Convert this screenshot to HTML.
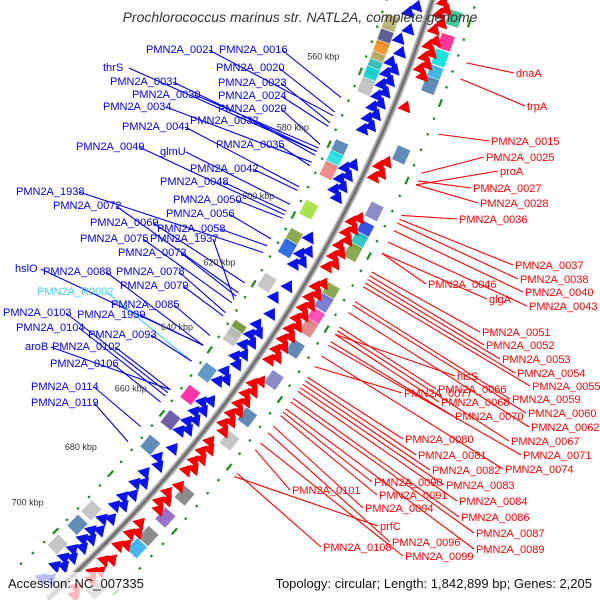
<!DOCTYPE html>
<html><head><meta charset="utf-8"><style>
html,body{margin:0;padding:0;background:#fff;width:600px;height:600px;overflow:hidden}
svg{display:block;font-family:"Liberation Sans",sans-serif}
</style></head><body>
<svg id="map" width="600" height="600" viewBox="0 0 600 600" xmlns="http://www.w3.org/2000/svg">
<defs><clipPath id="clip"><rect x="0" y="0" width="600" height="600"/></clipPath></defs>
<g clip-path="url(#clip)">
<g id="lines"></g>
<g id="ticks"></g>
<g id="boxes"></g>
<g id="genes"></g>
<g id="backbone"></g>
<g id="labels"></g>
</g>
<text x="300" y="22" text-anchor="middle" font-size="14" font-style="italic" fill="#333">Prochlorococcus marinus str. NATL2A, complete genome</text>
<rect x="0" y="572" width="600" height="28" fill="#fff" opacity="0.72"/>
<text x="8" y="588" font-size="13" fill="#111">Accession: NC_007335</text>
<text x="592" y="588" font-size="13" fill="#111" text-anchor="end">Topology: circular; Length: 1,842,899 bp; Genes: 2,205</text>
</svg>
<script>
// ---- data ----
const kbpTicks = [560, 580, 600, 620, 640, 660, 680, 700];
const fwdGenes = [541,543,547,550,553,556,557.5,559,560.5,562,563.5,565,566.5,568,569.5,571,572.5,574,583,584.5,586,587.5,589,590.5,592,604,607,608.5,610,611.5,617,621,625,629,630.5,632,633.5,635,637,638.5,640,643,644.5,646,651,652.5,654,655.5,657,658.5,660,661.5,666,670,671.5,675,677,678.5,681,683,684.5,686,689,690.5,693,694.5,696,697.5,699,701,702.5,704,705.5,707,710,711.5];
const revGenes = [538,539.5,541,543,545,547.5,549,550.5,552,553.5,555,556.5,565,579,580.5,582,583.5,594,595.5,597,598.5,600,602,603.5,605,606.5,608,612,613.5,615,616.5,618,619.5,621,622.5,624,625.5,627,628.5,630,631.5,633,634.5,640,641.5,643,644.5,646,647.5,649,650.5,652,653.5,655,659,660.5,662,663.5,665,666.5,668,672,675,676.5,678,679.5,685,687,688.5,691,692.5,696,697.5,700,701.5,703,707,708.5];
const innerBoxKbp = [546,550,553,556,558,560,563,580,583,586,597,605,608,618,632,634,645,652,660,668,690,695,702];
const innerBoxColor = ['#b8b070','#505090','#f09020','#b0a860','#30c0c0','#10d0d0','#c0c0c0','#5080b0','#20e0e0','#f08080','#a0e040','#80a040','#2060e0','#c0c0c0','#709030','#c0c0c0','#5090c0','#ff20a0','#6050a0','#5080b0','#c0c0c0','#5080b0','#c0c0c0'];
const outerBoxKbp = [540,546,550,554,557,575,590,595,598,601,612,615,619,622,628,637,648,655,672,679,685,689,703];
const outerBoxColor = ['#30c090','#ff2090','#00e0e0','#30b0e0','#5080b0','#5080b0','#8080c0','#2040e0','#20c0c0','#80a040','#80a040','#7070d0','#ff40b0','#e08080','#5080b0','#8080c0','#5080b0','#c0c0c0','#808080','#9060c0','#808080','#30b0f0','#909090'];
const blueLabels = ['PMN2A_0021','PMN2A_0016','PMN2A_0020','thrS','PMN2A_0031','PMN2A_0023','PMN2A_0030','PMN2A_0024','PMN2A_0034','PMN2A_0029','PMN2A_0032','PMN2A_0041','PMN2A_0035','PMN2A_0049','glmU','PMN2A_0042','PMN2A_0048','PMN2A_1938','PMN2A_0050','PMN2A_0072','PMN2A_0056','PMN2A_0069','PMN2A_0058','PMN2A_0075','PMN2A_1937','PMN2A_0073','hslO','PMN2A_0088','PMN2A_0078','PMN2A_0079','PMN2A_R0002','PMN2A_0085','PMN2A_0103','PMN2A_1939','PMN2A_0104','PMN2A_0093','aroB','PMN2A_0102','PMN2A_0106','PMN2A_0114','PMN2A_0119'];
const blueLabelKbp = [573,568,572,583,583,575,582,576,586,581,584,593,587,601,598,594,600,612,602,624,608,621,610,627,626,625,640,640,630,631,645,637,655,640,656,645,654,654,658,666,671];
const blueLabelX = [146,219,216,103,110,218,132,218,103,218,190,122,216,76,160,190,160,16,173,53,166,90,157,80,150,118,15,43,116,120,37,111,3,77,16,88,25,52,50,31,31];
const blueLabelY = [53,53,71,71,85,86,98,99,110,112,124,130,148,150,155,172,185,195,203,209,217,226,232,242,242,256,272,275,275,289,295,308,316,318,331,338,350,350,367,390,406];
const redLabels = ['dnaA','trpA','PMN2A_0015','PMN2A_0025','proA','PMN2A_0027','PMN2A_0028','PMN2A_0036','PMN2A_0037','PMN2A_0038','PMN2A_0040','PMN2A_0046','glgA','PMN2A_0043','PMN2A_0051','PMN2A_0052','PMN2A_0053','PMN2A_0054','hisS','PMN2A_0055','PMN2A_0066','PMN2A_0077','PMN2A_0059','PMN2A_0068','PMN2A_0060','PMN2A_0070','PMN2A_0062','PMN2A_0067','PMN2A_0080','PMN2A_0071','PMN2A_0081','PMN2A_0082','PMN2A_0074','PMN2A_0083','PMN2A_0090','PMN2A_0101','PMN2A_0091','PMN2A_0084','PMN2A_0094','PMN2A_0086','prfC','PMN2A_0087','PMN2A_0096','PMN2A_0108','PMN2A_0089','PMN2A_0099'];
const redLabelKbp = [549,553,567,577,580,579,580,588,589,590,592,598,598,595,603,604,605,606,620,607,618,629,611,620,612,622,614,619,632,623,633,634,626,635,642,653,643,636,646,638,661,639,648,660,641,651];
const redLabelX = [516,527,491,486,500,473,480,459,515,520,525,428,489,529,482,486,502,517,457,532,438,404,512,441,528,455,531,511,405,523,418,432,505,446,374,292,379,459,365,461,380,476,392,323,476,405];
const redLabelY = [77,110,145,161,175,192,207,223,269,283,296,288,303,310,336,349,363,377,380,390,393,397,403,406,417,420,431,445,443,459,459,474,473,489,486,494,499,505,512,521,530,537,546,551,553,560];

// ---- geometry ----
const CX = -878, CY = -419, R0 = 1376;
const NS = 'http://www.w3.org/2000/svg';
function ang(k){ return (21.6 + (k - 560) * 0.1707) * Math.PI / 180; }
function pt(k, r){ const a = ang(k); return [CX + r*Math.cos(a), CY + r*Math.sin(a)]; }
function ptA(a, r){ return [CX + r*Math.cos(a), CY + r*Math.sin(a)]; }
function mk(tag, parent){ const e = document.createElementNS(NS, tag); document.getElementById(parent).appendChild(e); return e; }
function P(p){ return p[0].toFixed(1)+','+p[1].toFixed(1); }

// backbone
(function(){
  const a1 = ang(536), a2 = ang(713);
  [[7,'#d0d0d0'],[5,'#a0a0a0'],[2,'#6a6a6a']].forEach(function(s){
    const e = mk('path','backbone');
    
    
    const p1 = ptA(a1,R0), p2 = ptA(a2,R0);
    e.setAttribute('d','M'+P(p1)+' A'+R0+','+R0+' 0 0 1 '+P(p2));
    e.setAttribute('fill','none'); e.setAttribute('stroke',s[1]); e.setAttribute('stroke-width',s[0]);
  });
})();

// ticks (green dots) on both sides
for (let k = 536; k <= 712; k += 4) {
  [R0-44, R0+42].forEach(function(r){
    const big = (k % 20) === 0;
    const a = ang(k), d = (big ? 4 : 1.2) / r;
    const e = mk('line','ticks');
    
    
    const p1 = ptA(a-d, r), p2 = ptA(a+d, r);
    e.setAttribute('x1',p1[0]); e.setAttribute('y1',p1[1]); e.setAttribute('x2',p2[0]); e.setAttribute('y2',p2[1]);
    e.setAttribute('stroke','#1a8a1a'); e.setAttribute('stroke-width', 2.2);
  });
}
// kbp labels
kbpTicks.forEach(function(k){
  const p = pt(k, R0-84);
  const e = mk('text','ticks');
  
  
  e.setAttribute('x',p[0]); e.setAttribute('y',p[1]+3);
  e.setAttribute('text-anchor','middle'); e.setAttribute('font-size','9'); e.setAttribute('fill','#333');
  e.textContent = k + ' kbp';
});

// boxes
function box(k, r, color, name){
  const a = ang(k), d = 8 / r;
  const q = [ptA(a-d,r-7), ptA(a+d,r-7), ptA(a+d,r+7), ptA(a-d,r+7)];
  const e = mk('polygon','boxes');
  
  
  e.setAttribute('points', q.map(P).join(' '));
  e.setAttribute('fill', color); e.setAttribute('stroke', '#ffffff'); e.setAttribute('stroke-width','0.6'); e.setAttribute('opacity','0.9');
}
innerBoxKbp.forEach(function(k,i){ box(k, R0-33, innerBoxColor[i], 'inner-feature-box'); });
outerBoxKbp.forEach(function(k,i){ box(k, R0+26, outerBoxColor[i], 'outer-feature-box'); });

// gene arrows
function arrow(k, r, color, name, dir){
  const a = ang(k), d = 11 / r;
  const tip = ptA(a + dir*d, r), b1 = ptA(a, r-7), b2 = ptA(a, r+7);
  const e = mk('polygon','genes');
  
  
  e.setAttribute('points', [tip,b1,b2].map(P).join(' '));
  e.setAttribute('fill', color);
}
fwdGenes.forEach(function(k,i){ arrow(k, R0-13-(i%2)*6, '#0a14e6', 'forward-gene', -1); });
revGenes.forEach(function(k,i){ arrow(k, R0+11+(i%2)*5, '#f00000', 'reverse-gene', -1); });

// labels + leaders
function label(txt, x, y, k, color, side){
  const t = mk('text','labels');
  
  
  t.setAttribute('x', x); t.setAttribute('y', y);
  t.setAttribute('font-size','11'); t.setAttribute('fill', color);
  t.textContent = txt;
  const w = txt.length * 6.2;
  const l = mk('line','lines');
  
  
  let s, e;
  if (side < 0) { s = [x + w + 1, y - 3]; e = pt(k, R0-52); }
  else { s = [x - 2, y - 4]; e = pt(k, R0+52); }
  l.setAttribute('x1', s[0]); l.setAttribute('y1', s[1]); l.setAttribute('x2', e[0]); l.setAttribute('y2', e[1]);
  l.setAttribute('stroke', color); l.setAttribute('stroke-width','1.1');
}
blueLabels.forEach(function(t,i){ label(t, blueLabelX[i], blueLabelY[i], blueLabelKbp[i], t==='PMN2A_R0002' ? '#44ccff' : '#0000ee', -1); });
redLabels.forEach(function(t,i){ label(t, redLabelX[i], redLabelY[i], redLabelKbp[i], '#ff0000', 1); });
</script>
</body></html>
